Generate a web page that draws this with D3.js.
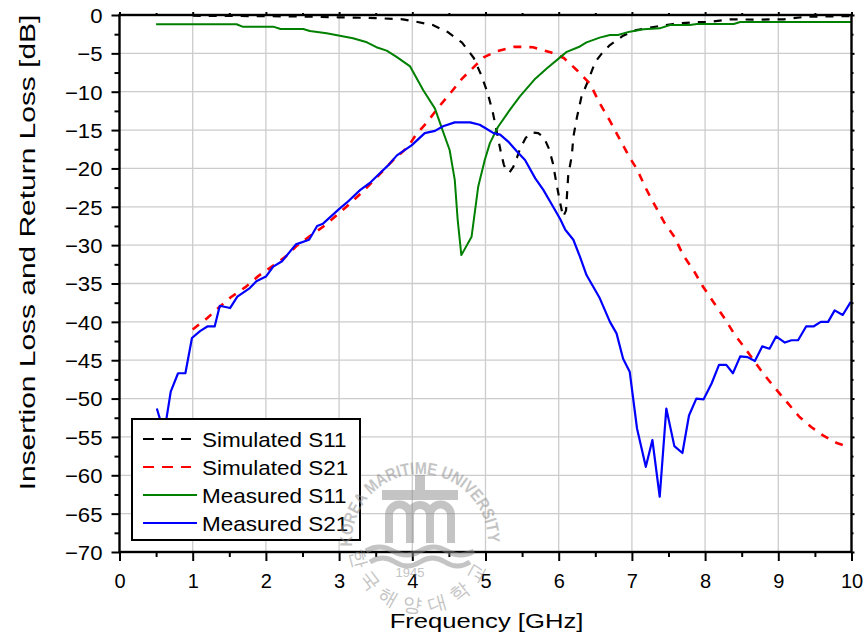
<!DOCTYPE html>
<html>
<head>
<meta charset="utf-8">
<script src="https://cdn.jsdelivr.net/npm/d3@7"></script>
<style>
  body { margin: 0; background: #fff; }
  svg { display: block; }
  text { font-family: "Liberation Sans", Arial, sans-serif; fill: #000; }
</style>
</head>
<body>
<svg id="chart" width="868" height="642"></svg>
<script>
// ---- data: frequency [GHz] and level [dB] for each trace ----
const simS11Freq = [1.0, 2.0, 2.5, 3.0, 3.5, 3.87, 4.05, 4.28, 4.49, 4.68, 4.84, 4.94, 5.03, 5.10, 5.16, 5.21, 5.25, 5.29, 5.33, 5.38, 5.43, 5.47, 5.55, 5.64, 5.72, 5.80, 5.87, 5.92, 5.97, 6.02, 6.06, 6.10, 6.13, 6.18, 6.20, 6.25, 6.31, 6.40, 6.50, 6.59, 6.69, 6.88, 7.06, 7.34, 7.56, 7.82, 8.07, 8.34, 8.70, 9.07, 9.38, 10.0];
const simS11Val  = [-0.1, -0.15, -0.2, -0.3, -0.4, -0.56, -0.87, -1.3, -2.26, -3.6, -5.6, -7.8, -10.2, -12.7, -15.5, -17.9, -19.5, -20.4, -20.5, -19.8, -18.6, -17.5, -16.0, -15.3, -15.4, -16.0, -17.5, -19.3, -22.0, -24.5, -26.3, -25.5, -20.9, -18.3, -15.9, -13.3, -10.7, -8.6, -6.1, -5.0, -4.0, -2.7, -1.96, -1.5, -1.17, -0.96, -0.9, -0.56, -0.6, -0.56, -0.22, -0.15];

const simS21Freq = [1.0, 1.2, 1.35, 1.52, 1.73, 1.9, 2.11, 2.27, 2.42, 2.62, 2.81, 2.98, 3.1, 3.27, 3.45, 3.57, 3.73, 3.94, 4.05, 4.2, 4.36, 4.51, 4.68, 4.86, 4.98, 5.16, 5.40, 5.65, 5.9, 6.07, 6.26, 6.43, 6.56, 6.7, 6.84, 6.97, 7.07, 7.18, 7.29, 7.44, 7.58, 7.7, 7.85, 7.97, 8.12, 8.27, 8.4, 8.58, 8.8, 8.97, 9.13, 9.29, 9.45, 9.61, 9.8, 9.9];
const simS21Val  = [-41.0, -39.5, -38.2, -36.8, -35.4, -34.0, -32.6, -31.5, -30.1, -28.7, -27.4, -26.0, -25.0, -23.5, -21.8, -20.6, -19.0, -17.2, -15.6, -14.0, -12.0, -10.3, -8.3, -6.6, -5.5, -4.7, -4.13, -4.2, -4.9, -5.6, -7.3, -9.0, -11.5, -13.8, -16.3, -18.6, -20.1, -22.4, -24.4, -27.0, -28.9, -31.3, -33.4, -35.4, -37.5, -39.6, -41.6, -43.9, -46.8, -48.8, -50.6, -52.4, -53.7, -54.8, -55.8, -56.1];

const measS11Freq = [0.5, 1.6, 1.68, 2.1, 2.2, 2.51, 2.6, 2.83, 3.19, 3.38, 3.51, 3.65, 3.79, 3.97, 4.01, 4.15, 4.31, 4.42, 4.51, 4.58, 4.62, 4.67, 4.81, 4.90, 4.99, 5.06, 5.17, 5.33, 5.47, 5.68, 5.84, 6.06, 6.11, 6.29, 6.38, 6.56, 6.70, 6.81, 6.97, 7.16, 7.38, 7.52, 7.79, 7.89, 8.39, 8.48, 10.0];
const measS11Val  = [-1.2, -1.2, -1.52, -1.52, -1.82, -1.82, -2.09, -2.39, -3.04, -3.56, -4.2, -4.65, -5.5, -6.7, -7.4, -9.8, -12.2, -15.2, -17.6, -21.5, -26.7, -31.3, -28.9, -22.4, -18.9, -16.7, -14.6, -12.4, -10.6, -8.3, -6.95, -5.2, -4.8, -4.1, -3.57, -2.95, -2.6, -2.6, -2.17, -1.87, -1.74, -1.3, -1.3, -1.17, -1.17, -0.91, -0.91];

const measS21Freq = [0.51, 0.61, 0.70, 0.80, 0.90, 0.99, 1.10, 1.20, 1.30, 1.37, 1.51, 1.61, 1.78, 1.87, 2.00, 2.10, 2.22, 2.41, 2.59, 2.70, 2.78, 3.01, 3.10, 3.29, 3.42, 3.56, 3.67, 3.79, 3.99, 4.17, 4.31, 4.42, 4.58, 4.79, 4.92, 4.99, 5.11, 5.20, 5.31, 5.43, 5.54, 5.68, 5.79, 5.90, 6.02, 6.09, 6.20, 6.29, 6.38, 6.47, 6.56, 6.70, 6.79, 6.88, 6.97, 7.07, 7.19, 7.28, 7.38, 7.47, 7.58, 7.69, 7.78, 7.88, 7.98, 8.09, 8.19, 8.29, 8.38, 8.48, 8.58, 8.68, 8.78, 8.88, 8.97, 9.09, 9.18, 9.27, 9.38, 9.48, 9.58, 9.68, 9.77, 9.88, 9.99];
const measS21Val  = [-51.3, -54.5, -49.1, -46.7, -46.7, -42.1, -41.2, -40.6, -40.6, -37.9, -38.2, -36.7, -35.6, -34.7, -34.1, -32.8, -32.1, -29.9, -29.3, -27.5, -27.2, -25.2, -24.5, -22.8, -21.9, -20.6, -19.6, -18.3, -17.0, -15.4, -15.1, -14.5, -14.0, -14.0, -14.3, -14.7, -15.4, -15.6, -16.5, -17.8, -18.9, -21.3, -22.8, -24.6, -26.6, -28.0, -29.3, -31.5, -33.9, -35.4, -36.9, -40.0, -41.5, -44.8, -46.5, -53.9, -58.9, -55.4, -62.8, -51.3, -56.2, -57.1, -52.2, -50.0, -50.1, -48.0, -45.6, -45.6, -46.7, -44.5, -44.6, -45.1, -43.2, -43.5, -41.9, -42.7, -42.4, -42.4, -40.6, -40.6, -40.0, -40.0, -38.5, -39.1, -37.4];

const xTickValues = [0, 1, 2, 3, 4, 5, 6, 7, 8, 9, 10];
const yTickValues = [0, -5, -10, -15, -20, -25, -30, -35, -40, -45, -50, -55, -60, -65, -70];
const seriesNames = ["Simulated S11", "Simulated S21", "Measured S11", "Measured S21"];
const xTitle = "Frequency [GHz]";
const yTitle = "Insertion Loss and Return Loss [dB]";

// ---- layout ----
const svg = d3.select("#chart");
const plot = { left: 119.5, right: 851.5, top: 15, bottom: 552 };
const x = d3.scaleLinear().domain([0, 10]).range([plot.left, plot.right]);
const y = d3.scaleLinear().domain([-70, 0]).range([plot.bottom, plot.top]);

const styles = [
  { color: "#000000", dash: "8,8", width: 2.2 },
  { color: "#ff0000", dash: "8,8", width: 2.6 },
  { color: "#008000", dash: null, width: 2 },
  { color: "#0000ff", dash: null, width: 2.2 }
];

function stretch(sel, factor) {
  sel.each(function () {
    const w = this.getComputedTextLength();
    this.setAttribute("textLength", w * factor);
    this.setAttribute("lengthAdjust", "spacingAndGlyphs");
  });
}

// ---- grid ----
const grid = svg.append("g").attr("stroke", "#cccccc").attr("stroke-width", 1.3);
grid.selectAll(".gx").data(xTickValues.slice(1, -1)).join("line")
  .attr("x1", d => x(d)).attr("x2", d => x(d))
  .attr("y1", plot.top).attr("y2", plot.bottom);
grid.selectAll(".gy").data(yTickValues.slice(1, -1)).join("line")
  .attr("x1", plot.left).attr("x2", plot.right)
  .attr("y1", d => y(d)).attr("y2", d => y(d));

// ---- traces ----
const traces = [
  d3.zip(simS11Freq, simS11Val),
  d3.zip(simS21Freq, simS21Val),
  d3.zip(measS11Freq, measS11Val),
  d3.zip(measS21Freq, measS21Val)
];
const line = d3.line().x(d => x(d[0])).y(d => y(d[1]));
svg.append("clipPath").attr("id", "plotClip").append("rect")
  .attr("x", plot.left).attr("y", plot.top - 2)
  .attr("width", plot.right - plot.left).attr("height", plot.bottom - plot.top + 2);
const traceG = svg.append("g").attr("clip-path", "url(#plotClip)");
traces.forEach((t, i) => {
  traceG.append("path").datum(t)
    .attr("d", line)
    .attr("fill", "none")
    .attr("stroke", styles[i].color)
    .attr("stroke-width", styles[i].width)
    .attr("stroke-linejoin", "round")
    .attr("stroke-dasharray", styles[i].dash);
});

// ---- axes ----
const minorX = d3.range(0.5, 10, 1);
const minorY = d3.range(-2.5, -70, -5);
function styleAxis(g) {
  g.select(".domain").remove();
  g.selectAll(".tick line").attr("stroke", "#000").attr("stroke-width", 2);
  g.selectAll(".tick text").attr("font-size", 20).attr("fill", "#000")
    .attr("font-family", "Liberation Sans, Arial, sans-serif");
}
const fmt = d3.format("d");

svg.append("g").attr("transform", `translate(0,${plot.bottom})`)
  .call(d3.axisBottom(x).tickValues(xTickValues).tickFormat(fmt).tickSize(9).tickPadding(13))
  .call(styleAxis);
svg.append("g").attr("transform", `translate(0,${plot.bottom})`)
  .call(d3.axisBottom(x).tickValues(minorX).tickFormat("").tickSize(5)).call(styleAxis);

const yAxis = svg.append("g").attr("transform", `translate(${plot.left},0)`)
  .call(d3.axisLeft(y).tickValues(yTickValues).tickFormat(fmt).tickSize(8).tickPadding(9))
  .call(styleAxis);
yAxis.selectAll(".tick text").attr("dy", "0.36em").attr("font-size", 20.5);
stretch(yAxis.selectAll(".tick text"), 1.08);
svg.append("g").attr("transform", `translate(${plot.left},0)`)
  .call(d3.axisLeft(y).tickValues(minorY).tickFormat("").tickSize(5)).call(styleAxis);

svg.append("g").attr("transform", `translate(0,${plot.top})`)
  .call(d3.axisTop(x).tickValues(xTickValues).tickFormat("").tickSize(3)).call(styleAxis);
svg.append("g").attr("transform", `translate(0,${plot.top})`)
  .call(d3.axisTop(x).tickValues(minorX).tickFormat("").tickSize(2)).call(styleAxis);
svg.append("g").attr("transform", `translate(${plot.right},0)`)
  .call(d3.axisRight(y).tickValues(yTickValues).tickFormat("").tickSize(3)).call(styleAxis);
svg.append("g").attr("transform", `translate(${plot.right},0)`)
  .call(d3.axisRight(y).tickValues(minorY).tickFormat("").tickSize(2)).call(styleAxis);

// frame
svg.append("rect")
  .attr("x", plot.left).attr("y", plot.top)
  .attr("width", plot.right - plot.left).attr("height", plot.bottom - plot.top)
  .attr("fill", "none").attr("stroke", "#000").attr("stroke-width", 2.4);

// ---- axis titles ----
const xt = svg.append("text")
  .attr("x", (plot.left + plot.right) / 2 + 1).attr("y", 628)
  .attr("text-anchor", "middle").attr("font-size", 21)
  .text(xTitle);
stretch(xt, 1.22);

const yt = svg.append("text")
  .attr("transform", `translate(35,${(plot.top + 490) / 2}) rotate(-90)`)
  .attr("text-anchor", "middle").attr("font-size", 22)
  .text(yTitle);
stretch(yt, 1.36);

// ---- legend ----
const lg = svg.append("g");
lg.append("rect").attr("x", 132).attr("y", 419).attr("width", 228).attr("height", 121)
  .attr("fill", "#fff").attr("stroke", "#000").attr("stroke-width", 2);
seriesNames.forEach((name, i) => {
  const cy = 439 + i * 28;
  lg.append("line")
    .attr("x1", 143).attr("x2", styles[i].dash ? 191 : 197)
    .attr("y1", cy).attr("y2", cy)
    .attr("stroke", styles[i].color).attr("stroke-width", 2)
    .attr("stroke-dasharray", styles[i].dash ? "11,8" : null);
  const t = lg.append("text").attr("x", 202).attr("y", cy + 7.5)
    .attr("font-size", 21).text(name);
  stretch(t, 1.07);
});

// ---- university seal watermark ----
const ink = "#8a8a8a";
const seal = svg.append("g").attr("opacity", 0.5).attr("fill", ink).attr("stroke", "none");
const sc = { x: 420, y: 542 };
const arcTop = d3.path();
arcTop.arc(sc.x, sc.y, 68, Math.PI * 0.98, Math.PI * 2.03, false);
seal.append("path").attr("id", "sealTop").attr("d", arcTop.toString()).attr("fill", "none");
seal.append("text").attr("font-size", 17).attr("font-weight", "bold").style("fill", ink)
  .append("textPath").attr("href", "#sealTop").attr("textLength", 218)
  .attr("lengthAdjust", "spacingAndGlyphs")
  .text("KOREA MARITIME UNIVERSITY");
const arcBot = d3.path();
arcBot.arc(sc.x, sc.y, 70, Math.PI * 0.96, Math.PI * 0.06, true);
seal.append("path").attr("id", "sealBot").attr("d", arcBot.toString()).attr("fill", "none");
seal.append("text").attr("font-size", 19).style("fill", ink)
  .attr("font-family", "Noto Sans CJK KR, sans-serif")
  .append("textPath").attr("href", "#sealBot").attr("textLength", 185)
  .text("한국해양대학교");
seal.append("text").attr("x", sc.x - 10).attr("y", sc.y + 35).attr("text-anchor", "middle")
  .attr("font-size", 13).style("fill", ink).text("1945");
// emblem: bar with mast over three arches, waves beneath
seal.append("rect").attr("x", sc.x - 38).attr("y", sc.y - 52).attr("width", 76).attr("height", 10);
seal.append("rect").attr("x", sc.x - 5).attr("y", sc.y - 67).attr("width", 10).attr("height", 16);
seal.append("path").attr("fill", "none").attr("stroke", ink).attr("stroke-width", 8)
  .attr("d", `M${sc.x - 31},${sc.y + 1} v-28 a10.5,10.5 0 0 1 21,0 v28 M${sc.x - 10},${sc.y - 27} a10,10 0 0 1 20,0 v28 M${sc.x + 10},${sc.y - 27} a10.5,10.5 0 0 1 21,0 v28`);
seal.append("path").attr("fill", "none").attr("stroke", ink).attr("stroke-width", 5)
  .attr("d", `M${sc.x - 54},${sc.y + 9} q13,-8 27,0 t27,0 t27,0 t27,0 M${sc.x - 50},${sc.y + 20} q12.5,-8 25,0 t25,0 t25,0 t25,0`);
</script>
</body>
</html>
